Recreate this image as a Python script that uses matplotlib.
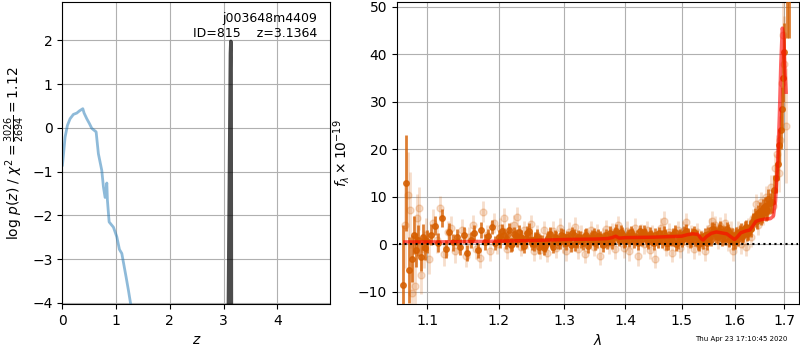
import matplotlib
matplotlib.use("Agg")
import matplotlib.pyplot as plt
from matplotlib.ticker import FixedLocator, FixedFormatter, NullLocator
import numpy as np

# ---------------- left panel data: log p(z) ----------------
z_curve = [0.0, 0.019, 0.05, 0.094, 0.143, 0.205, 0.268, 0.317, 0.38, 0.404, 0.454,
           0.503, 0.547, 0.628, 0.67, 0.733, 0.764, 0.795, 0.827, 0.838, 0.87,
           0.95, 1.013, 1.062, 1.106, 1.186, 1.229, 1.27, 1.30]
logp_curve = [-0.85, -0.62, -0.21, 0.06, 0.21, 0.31, 0.34, 0.39, 0.44, 0.34, 0.21,
              0.10, -0.01, -0.09, -0.59, -0.97, -1.35, -1.59, -1.26, -1.65, -2.15,
              -2.27, -2.49, -2.78, -2.87, -3.41, -3.71, -4.02, -4.2]
z_peak = [3.089, 3.128, 3.1364, 3.142, 3.147]
logp_peak = [-4.2, 1.7, 1.98, 1.6, -4.2]

label_name = "j003648m4409"
label_id = "ID=815    z=3.1364"
chi2_num, chi2_den, chi2_val = 3026, 2694, 1.12
timestamp = "Thu Apr 23 17:10:45 2020"

# ---------------- right panel data: spectrum ----------------
wave_dark = [1.068, 1.072, 1.076, 1.079, 1.082, 1.085, 1.088, 1.091, 1.094, 1.097, 1.100,
             1.105, 1.110, 1.115, 1.120, 1.125, 1.130, 1.135, 1.140, 1.145, 1.150,
             1.155, 1.160, 1.165, 1.170, 1.175, 1.180, 1.185, 1.190, 1.195, 1.200,
             1.205, 1.210, 1.215, 1.220, 1.225, 1.230, 1.235, 1.240, 1.245, 1.250,
             1.255, 1.260, 1.265, 1.270, 1.275, 1.280, 1.285, 1.290, 1.295, 1.300,
             1.305, 1.310, 1.315, 1.320, 1.325, 1.330, 1.335, 1.340, 1.345, 1.350,
             1.355, 1.360, 1.365, 1.370, 1.375, 1.380, 1.385, 1.390, 1.395, 1.400,
             1.405, 1.410, 1.415, 1.420, 1.425, 1.430, 1.435, 1.440, 1.445, 1.450,
             1.455, 1.460, 1.465, 1.470, 1.475, 1.480, 1.485, 1.490, 1.495, 1.500,
             1.505, 1.510, 1.515, 1.520, 1.525, 1.530, 1.535, 1.540, 1.545, 1.550,
             1.555, 1.560, 1.565, 1.570, 1.575, 1.580, 1.585, 1.590, 1.595, 1.600,
             1.605, 1.610, 1.615, 1.620, 1.625, 1.630, 1.635, 1.640, 1.645, 1.650,
             1.655, 1.660, 1.665, 1.670, 1.675, 1.680, 1.684, 1.687, 1.690, 1.693,
             1.695, 1.697, 1.699, 1.705, 1.709]
flux_dark = [-8.6, 12.9, -5.4, -3.0, 2.0, -1.2, 0.8, -2.6, 1.5, -0.8, 0.6,
             2.0, 3.9, 0.3, 5.5, -1.0, 2.6, 0.4, 1.5, -0.6, 1.9,
             -1.8, 0.9, 2.4, -1.3, 3.0, 0.5, 1.7, 3.7, 0.2, 1.5,
             2.8, 0.6, 3.0, 0.0, 1.8, 2.6, 0.4, 1.4, 2.9, 0.2,
             1.2, -0.6, 0.5, -0.3, 1.3, 0.1, 1.6, 0.4, 2.0, 0.8,
             1.5, -0.2, 1.9, 0.6, 1.4, 0.2, 2.0, 0.8, 1.6, 0.3,
             1.8, 0.9, 1.2, 0.4, 2.4, 1.3, 2.8, 1.0, 2.2, 0.9,
             1.8, 2.5, 0.7, 1.6, 2.7, 1.1, 2.0, 0.5, 1.7, 0.2,
             1.4, 2.3, 0.6, 1.8, 0.3, 1.2, 2.1, 0.0, 1.6, 0.8,
             2.4, 1.4, 0.6, 2.0, 1.0, 0.2, 1.5, 0.4, 1.2, 2.2,
             1.0, 3.0, 1.8, 2.8, 1.2, 2.4, 3.2, 1.0, 2.0, 0.6,
             1.8, 2.6, 1.5, 3.4, 2.2, 3.6, 4.4, 6.0, 5.0, 7.0,
             6.2, 8.0, 7.2, 8.6, 9.0, 11.5, 14.0, 17.0, 20.8, 24.0,
             28.5, 35.0, 40.5, 60.0, 62.0]
err_dark = [12.6, 10.0, 7.0, 5.0, 4.0, 3.5, 3.2, 3.0, 2.8, 2.6, 2.4,
            2.2, 2.0, 2.0, 1.9, 1.8, 1.8, 1.8, 1.7, 1.7, 1.7,
            1.7, 1.6, 1.6, 1.6, 1.6, 1.6, 1.6, 1.5, 1.5, 1.5,
            1.5, 1.5, 1.5, 1.5, 1.5, 1.5, 1.5, 1.5, 1.5, 1.4,
            1.4, 1.4, 1.4, 1.4, 1.4, 1.4, 1.4, 1.4, 1.4, 1.4,
            1.4, 1.4, 1.4, 1.4, 1.4, 1.4, 1.4, 1.4, 1.4, 1.4,
            1.4, 1.4, 1.4, 1.4, 1.4, 1.4, 1.4, 1.4, 1.4, 1.4,
            1.4, 1.4, 1.4, 1.4, 1.4, 1.4, 1.4, 1.4, 1.4, 1.4,
            1.4, 1.4, 1.4, 1.4, 1.4, 1.4, 1.4, 1.4, 1.4, 1.4,
            1.4, 1.4, 1.4, 1.4, 1.4, 1.4, 1.4, 1.4, 1.4, 1.4,
            1.4, 1.5, 1.5, 1.5, 1.5, 1.5, 1.5, 1.5, 1.5, 1.5,
            1.5, 1.5, 1.5, 1.6, 1.6, 1.6, 1.6, 1.7, 1.7, 1.8,
            1.8, 1.9, 2.0, 2.2, 2.5, 3.0, 3.2, 3.5, 3.5, 4.0,
            4.5, 5.0, 6.0, 16.5, 18.5]

# second (interleaved) set of dark points
wave_dark2 = [1.2025, 1.2075, 1.2125, 1.2175, 1.2225, 1.2275, 1.2325, 1.2375, 1.2425, 1.2475,
              1.2525, 1.2575, 1.2625, 1.2675, 1.2725, 1.2775, 1.2825, 1.2875, 1.2925, 1.2975,
              1.3025, 1.3075, 1.3125, 1.3175, 1.3225, 1.3275, 1.3325, 1.3375, 1.3425, 1.3475,
              1.3525, 1.3575, 1.3625, 1.3675, 1.3725, 1.3775, 1.3825, 1.3875, 1.3925, 1.3975,
              1.4025, 1.4075, 1.4125, 1.4175, 1.4225, 1.4275, 1.4325, 1.4375, 1.4425, 1.4475,
              1.4525, 1.4575, 1.4625, 1.4675, 1.4725, 1.4775, 1.4825, 1.4875, 1.4925, 1.4975,
              1.5025, 1.5075, 1.5125, 1.5175, 1.5225, 1.5275, 1.5325, 1.5375, 1.5425, 1.5475,
              1.5525, 1.5575, 1.5625, 1.5675, 1.5725, 1.5775, 1.5825, 1.5875, 1.5925, 1.5975,
              1.6025, 1.6075, 1.6125, 1.6175, 1.6225, 1.6275, 1.6325, 1.6375, 1.6425, 1.6475,
              1.6525, 1.6575, 1.6625, 1.6675]
flux_dark2 = [0.8, 2.0, 1.2, -0.2, 2.2, 0.9, 1.6, -0.4, 2.4, 1.0,
              0.0, 1.8, 0.6, -0.8, 1.0, 2.2, -0.5, 1.3, 0.5, 1.8,
              0.2, 1.2, 2.3, 0.0, 1.6, 0.7, 1.8, -0.4, 1.2, 2.1,
              0.6, 1.5, -0.2, 1.9, 1.0, 0.4, 2.2, 1.6, 2.6, 0.6,
              1.4, 0.8, 2.0, 1.2, 0.2, 1.8, 2.6, 0.9, 2.2, 1.0,
              2.0, 0.6, 1.6, 2.4, 0.2, 1.5, 1.0, 2.6, 0.4, 1.9,
              1.2, 2.8, 2.0, 0.8, 2.5, 1.6, 0.0, 1.0, 2.0, 0.2,
              1.6, 3.2, 2.4, 1.6, 3.4, 2.0, 1.4, 2.8, 1.5, 0.4,
              2.2, 1.2, 3.0, 2.0, 3.6, 2.5, 3.2, 4.8, 5.4, 6.5,
              5.8, 7.6, 6.8, 9.5]
err_dark2 = [1.5, 1.5, 1.5, 1.5, 1.5, 1.5, 1.5, 1.5, 1.5, 1.5,
             1.4, 1.4, 1.4, 1.4, 1.4, 1.4, 1.4, 1.4, 1.4, 1.4,
             1.4, 1.4, 1.4, 1.4, 1.4, 1.4, 1.4, 1.4, 1.4, 1.4,
             1.4, 1.4, 1.4, 1.4, 1.4, 1.4, 1.4, 1.4, 1.4, 1.4,
             1.4, 1.4, 1.4, 1.4, 1.4, 1.4, 1.4, 1.4, 1.4, 1.4,
             1.4, 1.4, 1.4, 1.4, 1.4, 1.4, 1.4, 1.4, 1.4, 1.4,
             1.4, 1.4, 1.4, 1.4, 1.4, 1.4, 1.4, 1.4, 1.4, 1.4,
             1.5, 1.5, 1.5, 1.5, 1.5, 1.5, 1.5, 1.5, 1.5, 1.5,
             1.5, 1.5, 1.5, 1.6, 1.6, 1.6, 1.6, 1.7, 1.7, 1.8,
             1.8, 1.9, 2.0, 2.2]

wave_light = [1.070, 1.074, 1.077, 1.080, 1.083, 1.086, 1.089, 1.092, 1.095, 1.098,
              1.1025, 1.1075, 1.1125, 1.1175, 1.1225, 1.1275, 1.1325, 1.1375, 1.1425, 1.1475,
              1.1525, 1.1575, 1.1625, 1.1675, 1.1725, 1.1775, 1.1825, 1.1875, 1.1925, 1.1975,
              1.2025, 1.2075, 1.2125, 1.2175, 1.2225, 1.2275, 1.2325, 1.2375, 1.2425, 1.2475,
              1.2525, 1.2575, 1.2625, 1.2675, 1.2725, 1.2775, 1.2825, 1.2875, 1.2925, 1.2975,
              1.3025, 1.3075, 1.3125, 1.3175, 1.3225, 1.3275, 1.3325, 1.3375, 1.3425, 1.3475,
              1.3525, 1.3575, 1.3625, 1.3675, 1.3725, 1.3775, 1.3825, 1.3875, 1.3925, 1.3975,
              1.4025, 1.4075, 1.4125, 1.4175, 1.4225, 1.4275, 1.4325, 1.4375, 1.4425, 1.4475,
              1.4525, 1.4575, 1.4625, 1.4675, 1.4725, 1.4775, 1.4825, 1.4875, 1.4925, 1.4975,
              1.5025, 1.5075, 1.5125, 1.5175, 1.5225, 1.5275, 1.5325, 1.5375, 1.5425, 1.5475,
              1.5525, 1.5575, 1.5625, 1.5675, 1.5725, 1.5775, 1.5825, 1.5875, 1.5925, 1.5975,
              1.6025, 1.6075, 1.6125, 1.6175, 1.6225, 1.6275, 1.6325, 1.6375, 1.6425, 1.6475,
              1.6525, 1.6575, 1.6625, 1.6675, 1.6725, 1.6775, 1.6815, 1.6855, 1.6885, 1.6915,
              1.6945, 1.6975, 1.7005, 1.7040]
flux_light = [4.0, 10.4, 7.2, -10.3, -8.8, 5.5, 7.6, -6.5, -1.0, 2.0,
              -3.0, 4.5, 1.0, 7.6, -2.0, 2.5, 3.5, -1.5, 0.5, 3.0,
              -2.5, 1.5, 4.0, -1.0, -2.8, 6.9, 2.0, -1.5, 4.5, 0.0,
              3.5, 5.5, -1.0, 2.5, 4.0, 5.8, -0.5, 3.0, 1.0, 4.2,
              -1.5, 2.0, -1.2, 3.0, -1.8, 1.5, 2.8, -0.8, 3.5, 0.2,
              -1.5, 2.6, 0.5, 3.7, -1.0, 2.0, -2.0, 1.0, 3.0, -0.5,
              2.2, -2.4, 1.5, 3.2, 0.0, 2.5, -1.0, 4.0, 1.5, -0.8,
              2.8, -1.5, 1.0, 3.5, -2.5, 2.2, 0.0, 3.0, -1.2, 2.0,
              -3.0, 1.2, 3.5, 5.0, -0.5, 2.5, -1.8, 1.6, 3.0, -0.8,
              2.8, 4.6, 0.2, 2.0, -1.0, 2.5, -0.2, 1.0, -1.5, 2.0,
              3.5, 5.0, 4.0, 1.0, 3.8, 2.0, 4.5, 0.5, 2.8, -1.5,
              1.2, 3.0, 0.0, 2.5, -0.5, 3.5, 1.5, 5.5, 8.5, 4.0,
              9.0, 6.0, 10.0, 7.5, 12.0, 8.0, 16.0, 19.0, 15.0, 22.0,
              34.0, 44.0, 38.0, 25.0]
err_light = [9.0, 9.0, 8.0, 7.0, 6.0, 5.0, 4.5, 4.0, 4.0, 3.5,
             3.2, 3.0, 2.8, 2.6, 2.5, 2.5, 2.4, 2.4, 2.3, 2.3,
             2.3, 2.2, 2.2, 2.2, 2.2, 2.2, 2.1, 2.1, 2.1, 2.1,
             2.1, 2.1, 2.1, 2.1, 2.1, 2.0, 2.0, 2.0, 2.0, 2.0,
             2.0, 2.0, 2.0, 2.0, 2.0, 2.0, 2.0, 2.0, 2.0, 2.0,
             2.0, 2.0, 2.0, 2.0, 2.0, 2.0, 2.0, 2.0, 2.0, 2.0,
             2.0, 2.0, 2.0, 2.0, 2.0, 2.0, 2.0, 2.0, 2.0, 2.0,
             2.0, 2.0, 2.0, 2.0, 2.0, 2.0, 2.0, 2.0, 2.0, 2.0,
             2.0, 2.0, 2.0, 2.0, 2.0, 2.0, 2.0, 2.0, 2.0, 2.0,
             2.0, 2.0, 2.0, 2.0, 2.0, 2.0, 2.0, 2.0, 2.0, 2.0,
             2.0, 2.0, 2.0, 2.0, 2.0, 2.0, 2.0, 2.0, 2.0, 2.0,
             2.0, 2.0, 2.0, 2.0, 2.0, 2.0, 2.0, 2.0, 2.0, 2.0,
             2.0, 2.0, 2.2, 2.3, 2.5, 2.5, 3.0, 4.0, 4.0, 5.0,
             6.0, 8.0, 10.0, 12.0]

wave_model = [1.070, 1.100, 1.150, 1.200, 1.250, 1.300, 1.350, 1.370, 1.378, 1.384,
              1.390, 1.400, 1.450, 1.500, 1.510, 1.520, 1.530, 1.536, 1.540, 1.546,
              1.555, 1.565, 1.575, 1.585, 1.595, 1.600, 1.606, 1.612, 1.622, 1.630,
              1.636, 1.642, 1.650, 1.660, 1.672, 1.678, 1.682, 1.686, 1.690, 1.693,
              1.696, 1.699, 1.702, 1.704]
flux_model = [0.5, 0.5, 0.55, 0.65, 0.8, 1.0, 1.1, 1.2, 1.4, 1.7,
              1.3, 1.4, 1.5, 1.7, 2.0, 2.2, 2.1, 1.2, 0.9, 1.6,
              2.3, 2.6, 2.4, 2.2, 1.4, 1.0, 1.6, 2.4, 2.8, 3.0,
              3.8, 4.8, 5.1, 5.3, 5.4, 6.0, 9.0, 16.0, 27.0, 38.0,
              45.5, 44.0, 36.0, 32.0]

grism_color = (0.8352941176470589, 0.3686274509803922, 0.0)

fig = plt.figure(figsize=(8, 3.5), dpi=100)

# ---------------- left panel ----------------
ax1 = fig.add_axes([0.078, 0.131, 0.335, 0.862])
ax1.plot(z_curve, logp_curve, color='C0', alpha=0.5, lw=2)
ax1.plot(z_peak, logp_peak, color='k', alpha=0.7, lw=2.5)
ax1.set_xlim(0, 4.99)
ax1.set_ylim(-4.03, 2.87)
ax1.set_xticks([0, 1, 2, 3, 4])
ax1.set_yticks([-4, -3, -2, -1, 0, 1, 2])
ax1.grid(True)
ax1.set_xlabel(r'$z$')
ax1.set_ylabel(r'log $p(z)$ / $\chi^2=\frac{%d}{%d}=%.2f$' % (chi2_num, chi2_den, chi2_val))
ax1.text(0.95, 0.97, label_name + '\n' + label_id, ha='right', va='top',
         transform=ax1.transAxes, fontsize=9)

# ---------------- right panel ----------------
ax2 = fig.add_axes([0.496, 0.131, 0.503, 0.862])
ax2.errorbar(wave_light, flux_light, yerr=err_light, color=grism_color, alpha=0.2,
             marker='o', ms=5, linestyle='None', elinewidth=2, zorder=2)
ax2.errorbar(wave_dark, flux_dark, yerr=err_dark, color=grism_color, alpha=0.8,
             marker='o', ms=4, linestyle='None', elinewidth=2, zorder=3)
ax2.errorbar(wave_dark2, flux_dark2, yerr=err_dark2, color=grism_color, alpha=0.8,
             marker='o', ms=4, linestyle='None', elinewidth=2, zorder=3)
ax2.plot(wave_model, flux_model, color='r', alpha=0.6, lw=2.5, zorder=4)
ax2.plot([1.062, 1.728], [0, 0], color='k', linestyle=':', lw=1.5, zorder=5)
ax2.set_xscale('log')
ax2.set_xlim(1.0597, 1.7314)
ax2.set_ylim(-12.6, 50.9)
xt = [1.1, 1.2, 1.3, 1.4, 1.5, 1.6, 1.7]
ax2.xaxis.set_major_locator(FixedLocator(xt))
ax2.xaxis.set_major_formatter(FixedFormatter(['%.1f' % v for v in xt]))
ax2.xaxis.set_minor_locator(NullLocator())
ax2.set_yticks([-10, 0, 10, 20, 30, 40, 50])
ax2.grid(True)
ax2.set_xlabel(r'$\lambda$')
ax2.set_ylabel(r'$f_\lambda\times10^{-19}$')

fig.text(0.984, 0.022, timestamp, ha='right', va='bottom', fontsize=5)

fig.savefig('out.png', dpi=100)
